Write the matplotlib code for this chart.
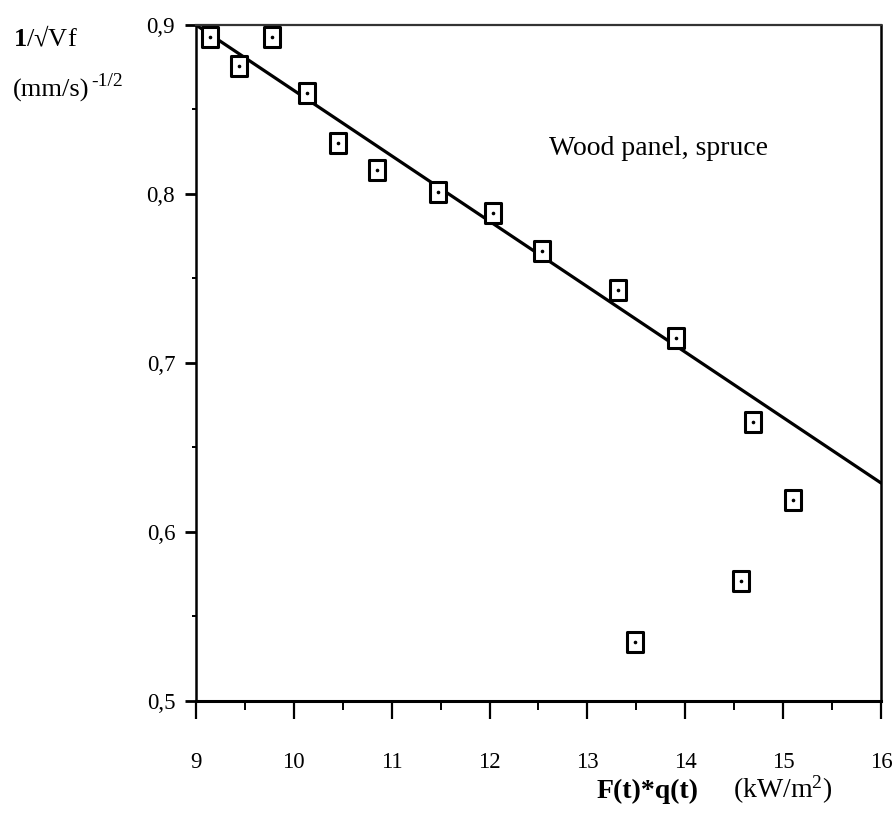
import matplotlib
matplotlib.use('Agg')
import matplotlib.pyplot as plt
from matplotlib.path import Path
from matplotlib.ticker import FixedLocator

# ---- data ----
x_vals = [9.14, 9.44, 9.78, 10.13, 10.45, 10.85, 11.47, 12.03, 12.54,
          13.31, 13.91, 14.69, 15.10, 14.57, 13.49]
y_vals = [0.893, 0.876, 0.893, 0.860, 0.830, 0.814, 0.801, 0.789, 0.766,
          0.743, 0.715, 0.665, 0.619, 0.571, 0.535]
fit_x = [9.0, 16.0]
fit_y = [0.900, 0.629]
x_ticks = [9, 10, 11, 12, 13, 14, 15, 16]
x_minor = [9.5, 10.5, 11.5, 12.5, 13.5, 14.5, 15.5]
y_ticks = [0.5, 0.6, 0.7, 0.8, 0.9]
y_minor = [0.55, 0.65, 0.75, 0.85]
y_tick_labels = ['0,5', '0,6', '0,7', '0,8', '0,9']
annotation = "Wood panel, spruce"

plt.rcParams['font.family'] = ['Liberation Serif', 'DejaVu Serif']
plt.rcParams['mathtext.fontset'] = 'custom'
plt.rcParams['mathtext.rm'] = 'Liberation Serif'
plt.rcParams['mathtext.it'] = 'Liberation Serif:italic'
plt.rcParams['mathtext.bf'] = 'Liberation Serif:bold'

W, H = 894, 821
fig = plt.figure(figsize=(W / 100, H / 100), dpi=100)
ax = fig.add_axes([196 / W, 1 - 701 / H, (881 - 196) / W, (701 - 25) / H])

# rectangular open marker (slightly taller than wide)
rect = Path([(-0.42, -0.5), (0.42, -0.5), (0.42, 0.5), (-0.42, 0.5), (-0.42, -0.5)],
            [Path.MOVETO, Path.LINETO, Path.LINETO, Path.LINETO, Path.CLOSEPOLY])

ax.plot(fit_x, fit_y, color='black', lw=2.3, solid_capstyle='round', zorder=2)
ax.plot(x_vals, y_vals, linestyle='none', marker=rect, markersize=14,
        markerfacecolor='white', markeredgecolor='black', markeredgewidth=2.2,
        clip_on=False, zorder=3)
ax.plot(x_vals, y_vals, linestyle='none', marker='o', markersize=1.6,
        color='black', clip_on=False, zorder=4)

ax.set_xlim(9, 16)
ax.set_ylim(0.5, 0.9)
ax.xaxis.set_major_locator(FixedLocator(x_ticks))
ax.xaxis.set_minor_locator(FixedLocator(x_minor))
ax.yaxis.set_major_locator(FixedLocator(y_ticks))
ax.yaxis.set_minor_locator(FixedLocator(y_minor))
ax.set_xticklabels([str(v) for v in x_ticks])
ax.set_yticklabels(y_tick_labels)

ax.tick_params(axis='x', which='major', direction='out', length=13, width=1.6,
               pad=24, labelsize=16.5)
ax.tick_params(axis='x', which='minor', direction='out', length=6.5, width=1.4)
ax.tick_params(axis='y', which='major', direction='out', length=8, width=2.0,
               pad=7, labelsize=16.5)
ax.tick_params(axis='y', which='minor', direction='out', length=3, width=1.4)

ax.spines['left'].set_linewidth(1.8)
ax.spines['bottom'].set_linewidth(2.2)
ax.spines['right'].set_linewidth(1.8)
ax.spines['top'].set_linewidth(1.6)
ax.spines['top'].set_color('#333333')

ax.text(13.73, 0.823, annotation, fontsize=20, ha='center', va='baseline')

# y-axis label (top-left)
fig.text(13 / W, 1 - 46 / H, "$\\mathbf{1}$/\u221aVf", fontsize=19,
         ha='left', va='baseline')
fig.text(13 / W, 1 - 97 / H, "(mm/s)", fontsize=19, ha='left', va='baseline')
fig.text(91 / W, 1 - 86 / H, "-1/2", fontsize=14, ha='left', va='baseline')

# x-axis label (bottom-right)
fig.text(648 / W, 1 - 798 / H, "F(t)*q(t)", fontsize=20, fontweight='bold',
         ha='center', va='baseline')
fig.text(783 / W, 1 - 798 / H, r"(kW/m$^{2}$)", fontsize=20,
         ha='center', va='baseline')

fig.savefig('out.png', dpi=100)
